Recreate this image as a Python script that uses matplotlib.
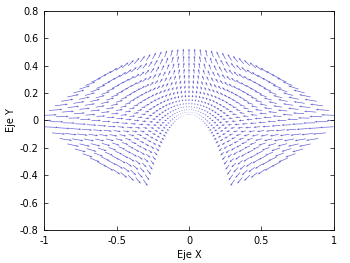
import numpy as np
import matplotlib
matplotlib.use('Agg')
import matplotlib.pyplot as plt

# parabolic coordinate grid (sigma, tau)
sigma = [-1.0, -0.96, -0.92, -0.88, -0.84, -0.8, -0.76, -0.72, -0.68, -0.64,
         -0.6, -0.56, -0.52, -0.48, -0.44, -0.4, -0.36, -0.32, -0.28, -0.24,
         -0.2, -0.16, -0.12, -0.08, -0.04, 0.0, 0.04, 0.08, 0.12, 0.16,
         0.2, 0.24, 0.28, 0.32, 0.36, 0.4, 0.44, 0.48, 0.52, 0.56,
         0.6, 0.64, 0.68, 0.72, 0.76, 0.8, 0.84, 0.88, 0.92, 0.96, 1.0]
tau = [0.3, 0.35, 0.4, 0.45, 0.5, 0.55, 0.6, 0.65, 0.7, 0.75,
       0.8, 0.85, 0.9, 0.95, 1.0]
scale = 0.1

xticks = [-1, -0.5, 0, 0.5, 1]
yticks = [-0.8, -0.6, -0.4, -0.2, 0, 0.2, 0.4, 0.6, 0.8]

S, T = np.meshgrid(sigma, tau)
X = S * T
Y = (T**2 - S**2) / 2
# field F = (-x, y)
U = -X * scale
V = Y * scale

fig = plt.figure(figsize=(3.5, 2.63), dpi=100)
ax = fig.add_axes([0.126, 0.125, 0.828, 0.834])
ax.quiver(X, Y, U, V, angles='xy', scale_units='xy', scale=1, pivot='mid',
          color='#5c5cd0', width=0.0022, headwidth=3, headlength=4,
          headaxislength=3.5)

ax.set_xlim(-1, 1)
ax.set_ylim(-0.8, 0.8)
ax.set_xticks(xticks)
ax.set_xticklabels(['-1', '-0.5', '0', '0.5', '1'])
ax.set_yticks(yticks)
ax.set_yticklabels(['-0.8', '-0.6', '-0.4', '-0.2', '0', '0.2', '0.4', '0.6', '0.8'])
ax.tick_params(direction='in', top=True, right=True, length=3, width=0.5,
               labelsize=7, pad=4)
for sp in ax.spines.values():
    sp.set_linewidth(0.6)
ax.set_xlabel('Eje X', fontsize=7, labelpad=3)
ax.set_ylabel('Eje Y', fontsize=7, labelpad=3)

fig.savefig('out.png', dpi=100)
